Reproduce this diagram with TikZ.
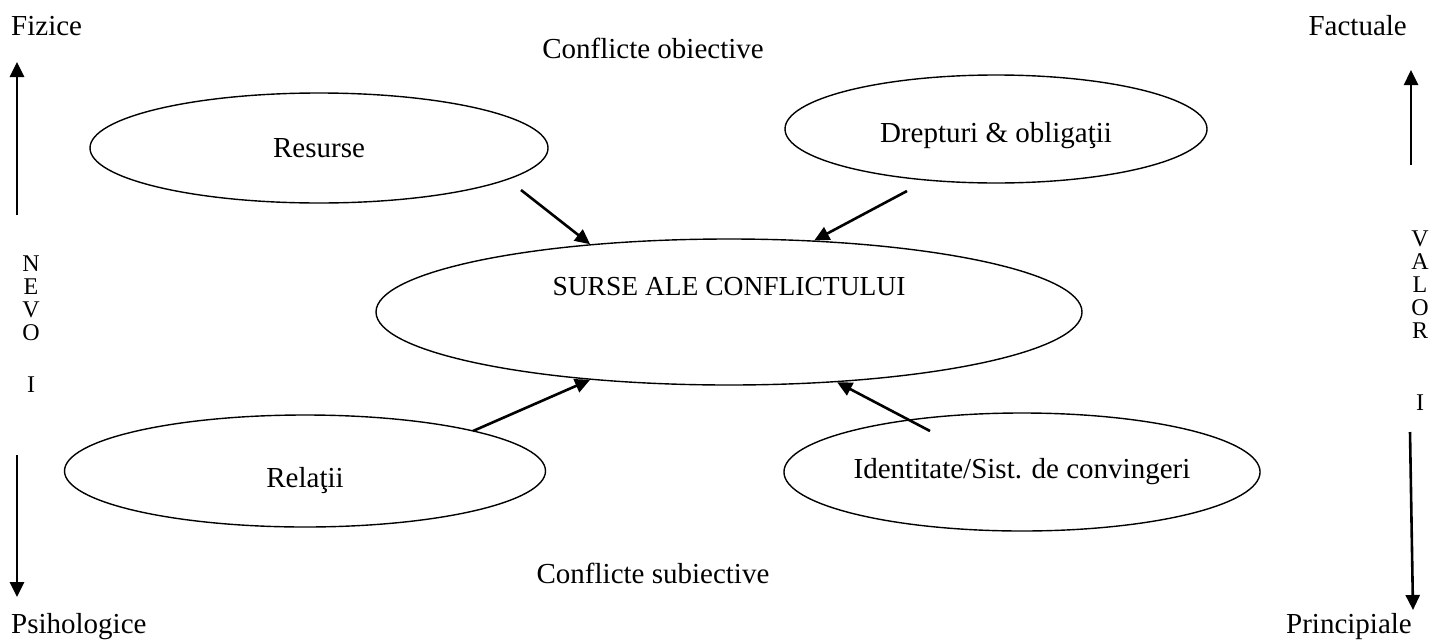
\documentclass[tikz,border=0pt]{standalone}
\usepackage{fontspec}
\setmainfont{Liberation Serif}
\usetikzlibrary{shapes.geometric,arrows.meta}

\begin{document}
\begin{tikzpicture}[x=1pt,y=-1pt,
    font=\fontsize{29}{33}\selectfont,
    bubble/.style={draw,ellipse,line width=1.4pt,inner sep=0pt},
    lbl/.style={inner sep=0pt},
    letters/.style={inner sep=0pt,align=center,font=\fontsize{24}{23}\selectfont},
    arr/.style={line width=2.6pt,-{Triangle[length=15pt,width=14pt]}}]
    \useasboundingbox (0,0) rectangle (1439,640);

    % corner labels
    \node[lbl,anchor=base west] (fiz) at (11,35) {Fizice};
    \node[lbl,anchor=base east] (fact) at (1407,35) {Factuale};
    \node[lbl,anchor=base west] (psih) at (11,633) {Psihologice};
    \node[lbl,anchor=base east] (princ) at (1412,633) {Principiale};

    % objective / subjective
    \node[lbl,anchor=base] (obiect) at (653,58) {Conflicte obiective};
    \node[lbl,anchor=base] (subiect) at (653,583) {Conflicte subiective};

    % the five ellipses
    \node[bubble,minimum width=458pt,minimum height=110pt] (res) at (319,148) {Resurse};
    \node[bubble,minimum width=422pt,minimum height=108pt] (drept) at (996,129)
        {\raisebox{-13pt}[0pt][0pt]{Drepturi \& obligaţii}};
    \node[bubble,minimum width=706pt,minimum height=146pt,font=\fontsize{27.5}{31}\selectfont] (surse) at (729,312)
        {\raisebox{17pt}[0pt][0pt]{SURSE ALE CONFLICTULUI}};
    \node[bubble,minimum width=481pt,minimum height=112pt] (rel) at (305,471)
        {\raisebox{-16pt}[0pt][0pt]{Relaţii}};
    \node[bubble,minimum width=470pt,minimum height=118pt] (ident) at (1022,472) {Identitate/Sist. de convingeri};

    % arrows into the centre
    \coordinate (resTail) at (521,190);
    \coordinate (dreptTail) at (907,191);
    \coordinate (relTail) at (473,431);
    \coordinate (identTail) at (930,431);
    \draw[arr] (resTail) -- (surse.154);
    \draw[arr] (dreptTail) -- (surse.40);
    \draw[arr] (relTail) -- (surse.206);
    \draw[arr] (identTail) -- (surse.-33);

    % NEVOI axis
    \node[letters,anchor=north] (nevoi) at (31,256) {N\\E\\V\\O\\[29pt]I};
    \coordinate (nevUpA) at (17,215);
    \coordinate (nevUpB) at (17,62);
    \coordinate (nevDnA) at (17,455);
    \coordinate (nevDnB) at (17,597);
    \draw[arr] (nevUpA) -- (nevUpB);
    \draw[arr] (nevDnA) -- (nevDnB);

    % VALORI axis
    \node[letters,anchor=north] (valori) at (1420,231) {V\\A\\L\\O\\R\\[49pt]I};
    \coordinate (valUpA) at (1411,165);
    \coordinate (valUpB) at (1411,70);
    \coordinate (valDnA) at (1410,432);
    \coordinate (valDnB) at (1413,610);
    \draw[arr] (valUpA) -- (valUpB);
    \draw[arr] (valDnA) -- (valDnB);
\end{tikzpicture}
\end{document}
